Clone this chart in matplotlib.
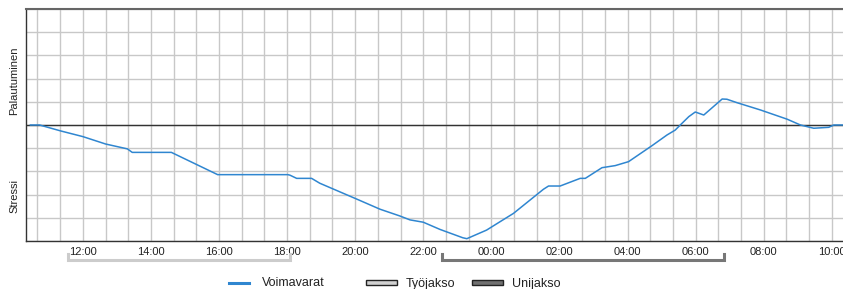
"""Voimavarat (stress / recovery) curve over one day."""
import matplotlib
matplotlib.use('Agg')
import matplotlib.pyplot as plt
from matplotlib.lines import Line2D
from matplotlib.patches import Rectangle
import numpy as np

plt.rcParams['font.family'] = ['Liberation Sans', 'DejaVu Sans']

# clock hours (values past 24 belong to the next day)
hours = [10.46, 10.73, 11.36, 12.0, 12.67, 13.31, 13.45, 14.60, 15.96, 18.02,
         18.08, 18.28, 18.72, 18.96, 20.04, 20.73, 21.31, 21.61, 22.0, 22.49,
         23.16, 23.28, 23.86, 24.21, 24.65, 25.53, 25.68, 26.02, 26.61, 26.76,
         27.25, 27.64, 28.03, 28.72, 29.16, 29.40, 29.55, 29.80, 29.99, 30.24,
         30.78, 30.92, 31.22, 31.90, 32.69, 33.08, 33.47, 33.91, 34.06, 34.34]
resources = [0.0, 0.0, -0.26, -0.50, -0.82, -1.03, -1.18, -1.18, -2.14, -2.14,
             -2.16, -2.30, -2.30, -2.51, -3.19, -3.63, -3.92, -4.09, -4.19, -4.50,
             -4.86, -4.90, -4.53, -4.21, -3.81, -2.77, -2.63, -2.63, -2.30, -2.30,
             -1.84, -1.75, -1.58, -0.89, -0.43, -0.22, 0.0, 0.36, 0.56, 0.43,
             1.12, 1.11, 0.96, 0.65, 0.25, 0.0, -0.14, -0.10, 0.0, 0.0]
work_period = (11.55, 18.08)
sleep_period = (22.55, 30.82)
x_start, x_end = 10.33, 34.33

fig = plt.figure(figsize=(8.43, 2.89), dpi=100)
ax = fig.add_axes([26 / 843, 48 / 289, 1 - 26 / 843, 232 / 289])

ax.set_xlim(x_start, x_end)
ax.set_ylim(-5, 5)

# grid every 40 min, labels every 2 h
grid_x = np.arange(10 + 2 / 3, x_end, 2 / 3)
ax.set_xticks(grid_x)
labels = []
for g in grid_x:
    h = round(g * 3) / 3
    if abs(h - round(h)) < 1e-6 and int(round(h)) % 2 == 0:
        labels.append('%02d:00' % (int(round(h)) % 24))
    else:
        labels.append('')
ax.set_xticklabels(labels, fontsize=8, color='#222222')
ax.set_yticks(np.arange(-5, 6, 1))
ax.set_yticklabels([])
ax.tick_params(axis='both', length=0, pad=4)
ax.grid(True, color='#c8c8c8', linewidth=1.0)
ax.set_axisbelow(True)

for side in ['left', 'bottom']:
    ax.spines[side].set_color('#333333')
    ax.spines[side].set_linewidth(1.0)
ax.spines['top'].set_color('#666666')
ax.spines['top'].set_linewidth(1.5)
ax.spines['right'].set_visible(False)

ax.axhline(0, color='#333333', linewidth=1.0, zorder=2)
ax.plot(hours, resources, color='#2f86d0', linewidth=1.1, zorder=3)

# period brackets under the axis
xt = ax.get_xaxis_transform()
for (a, b), col in [(work_period, '#cccccc'), (sleep_period, '#777777')]:
    ax.plot([a, a, b, b], [-0.058, -0.083, -0.083, -0.058], color=col,
            linewidth=2.2, transform=xt, clip_on=False, solid_joinstyle='miter')

fig.text(14 / 843, 1 - 81 / 289, 'Palautuminen', rotation=90, fontsize=8,
         ha='center', va='center', color='#222222')
fig.text(14 / 843, 1 - 196 / 289, 'Stressi', rotation=90, fontsize=8,
         ha='center', va='center', color='#222222')

# legend
ly = 1 - 282.5 / 289
fig.add_artist(Line2D([229 / 843, 249 / 843], [ly, ly], color='#2f86d0', linewidth=2.2))
fig.text(262 / 843, ly, 'Voimavarat', fontsize=9, va='center', color='#222222')
fig.add_artist(Rectangle((366 / 843, 1 - 285 / 289), 31 / 843, 5 / 289,
                         facecolor='#d0d0d0', edgecolor='#222222', linewidth=1.0))
fig.text(406 / 843, ly - 0.006, 'Työjakso', fontsize=9, va='center', color='#222222')
fig.add_artist(Rectangle((472 / 843, 1 - 285 / 289), 31 / 843, 5 / 289,
                         facecolor='#707070', edgecolor='#222222', linewidth=1.0))
fig.text(512 / 843, ly - 0.006, 'Unijakso', fontsize=9, va='center', color='#222222')

fig.savefig('out.png', dpi=100)
